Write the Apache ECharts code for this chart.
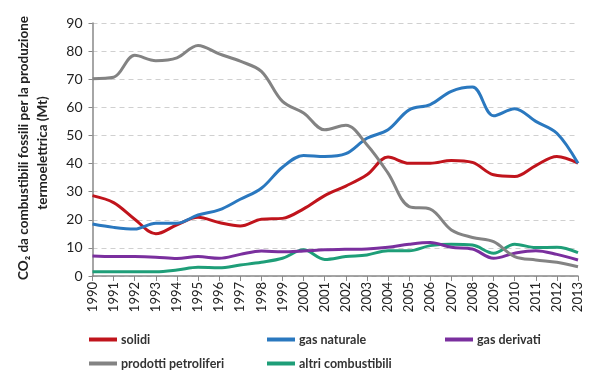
<!DOCTYPE html>
<html><head><meta charset="utf-8">
<script src="https://cdn.jsdelivr.net/npm/echarts@6/dist/echarts.min.js"></script>
<style>html,body{margin:0;padding:0;background:#fff}#c{width:602px;height:383px}</style>
</head><body><div id="c"></div>
<script>
const years = ['1990','1991','1992','1993','1994','1995','1996','1997','1998','1999','2000','2001','2002','2003','2004','2005','2006','2007','2008','2009','2010','2011','2012','2013'];
const solidi = [28.6,26.1,20.2,15.0,18.2,20.9,19.0,17.8,20.2,20.5,23.9,28.6,32.0,36.0,42.3,40.1,40.1,41.1,40.4,36.0,35.4,39.3,42.5,40.1];
const gasNaturale = [18.5,17.3,16.7,18.8,18.8,21.7,23.5,27.3,31.2,38.7,42.9,42.5,43.5,49.0,52.0,59.1,61.0,65.7,67.2,57.0,59.5,55.0,50.8,40.1];
const gasDerivati = [7.1,6.9,6.9,6.7,6.2,6.9,6.3,7.7,8.9,8.6,8.9,9.3,9.5,9.6,10.2,11.3,11.9,10.2,9.6,6.3,8.1,9.0,7.7,5.7];
const prodottiPetroliferi = [70.2,70.7,78.5,76.6,77.6,82.0,79.0,76.4,72.8,62.1,58.0,52.0,53.6,46.7,36.6,24.7,23.8,16.4,13.7,12.2,6.9,5.7,4.9,3.3];
const altriCombustibili = [1.5,1.5,1.5,1.5,2.1,3.1,2.9,3.9,4.9,6.3,9.3,5.9,6.9,7.5,9.0,9.0,10.8,11.3,11.0,8.1,11.3,10.1,10.2,8.3];
const yTicks = [0,10,20,30,40,50,60,70,80,90];

const FONT = 'Lato, "Open Sans", sans-serif';
const colors = {solidi:'#C0141C', gas:'#2A78BF', der:'#7A2F9E', petr:'#838383', altri:'#1E9E78'};
function mkSeries(name, data, color){
  return {name, type:'line', data, smooth:0.35, symbol:'none', lineStyle:{width:3, color}, itemStyle:{color}};
}
function mkLegend(name, left, top){
  return {data:[name], left, top, icon:'rect', itemWidth:28, itemHeight:4, padding:0,
    textStyle:{fontFamily:FONT, fontWeight:'bold', fontSize:12.5, color:'#333', padding:[0,0,0,-1]}, itemGap:0};
}
const chart = echarts.init(document.getElementById('c'), null, {renderer:'canvas'});
chart.setOption({
  animation:false,
  grid:{left:92.5, right:24, top:23, bottom:107, containLabel:false},
  xAxis:{type:'category', data:years, boundaryGap:false,
    axisLine:{lineStyle:{color:'#888', width:1.5}},
    axisTick:{show:true, alignWithLabel:true, length:5, lineStyle:{color:'#888'}},
    axisLabel:{rotate:90, fontFamily:FONT, fontSize:13, color:'#222', margin:6, interval:0}
  },
  yAxis:{type:'value', min:yTicks[0], max:yTicks[yTicks.length-1], interval:10,
    axisLine:{show:true, lineStyle:{color:'#888', width:1.5}},
    axisTick:{show:true, length:4, lineStyle:{color:'#888'}},
    axisLabel:{fontFamily:FONT, fontSize:14, color:'#222', margin:10},
    splitLine:{lineStyle:{color:'#d0d0d0', type:[5,4]}}
  },
  legend:[
    mkLegend('solidi', 89, 333),
    mkLegend('gas naturale', 267, 333),
    mkLegend('gas derivati', 445, 333),
    mkLegend('prodotti petroliferi', 89, 357),
    mkLegend('altri combustibili', 267, 357)
  ],
  graphic:[
    {type:'text', x:24, y:148, rotation:Math.PI/2,
      style:{text:'CO₂ da combustibili fossili per la produzione', fontFamily:FONT, fontWeight:'bold', fontSize:13.5, fill:'#222', align:'center', verticalAlign:'middle'}},
    {type:'text', x:43, y:153, rotation:Math.PI/2,
      style:{text:'termoelettrica (Mt)', fontFamily:FONT, fontWeight:'bold', fontSize:13.5, fill:'#222', align:'center', verticalAlign:'middle'}}
  ],
  series:[
    mkSeries('altri combustibili', altriCombustibili, colors.altri),
    mkSeries('gas derivati', gasDerivati, colors.der),
    mkSeries('solidi', solidi, colors.solidi),
    mkSeries('gas naturale', gasNaturale, colors.gas),
    mkSeries('prodotti petroliferi', prodottiPetroliferi, colors.petr)
  ]
});
</script></body></html>
